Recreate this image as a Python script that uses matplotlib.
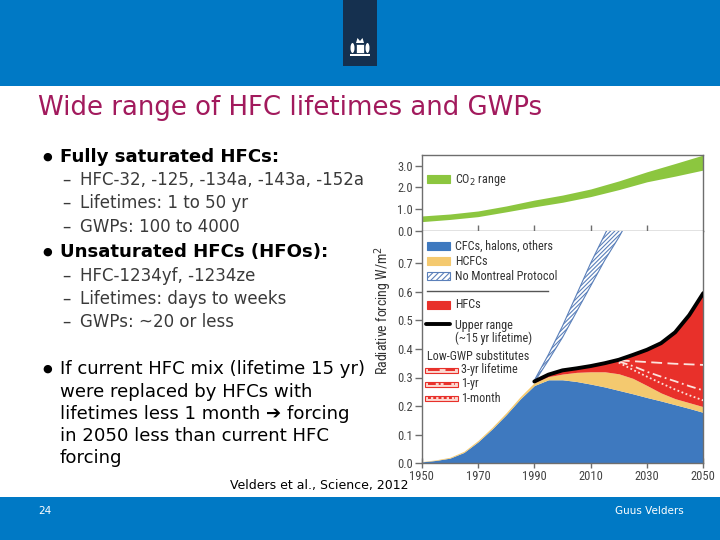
import numpy as np
import matplotlib.pyplot as plt
from matplotlib.patches import Rectangle, Polygon, Ellipse
from matplotlib.lines import Line2D
from matplotlib import font_manager

W, H = 720, 540


def fx(x):
    return x / W


def fy(y):
    return 1 - y / H


# --- data ---
years = [1950, 1955, 1960, 1965, 1970, 1975, 1980, 1985, 1990, 1995, 2000,
         2005, 2010, 2015, 2020, 2025, 2030, 2035, 2040, 2045, 2050]
cfc_top = [0.005, 0.010, 0.018, 0.038, 0.075, 0.120, 0.170, 0.225, 0.272, 0.292, 0.292,
           0.286, 0.277, 0.267, 0.255, 0.243, 0.230, 0.218, 0.205, 0.192, 0.178]
hcfc_top = [0.006, 0.012, 0.021, 0.042, 0.080, 0.126, 0.177, 0.233, 0.282, 0.303, 0.312,
            0.318, 0.320, 0.320, 0.313, 0.297, 0.272, 0.246, 0.226, 0.212, 0.198]

hfc_years = [1990, 1995, 2000, 2005, 2010, 2015, 2020, 2025, 2030, 2035, 2040, 2045, 2050]
upper_range = [0.286, 0.310, 0.325, 0.332, 0.340, 0.350, 0.362, 0.379, 0.397, 0.420,
               0.458, 0.518, 0.595]

sub_years = [2020, 2025, 2030, 2035, 2040, 2045, 2050]
sub_3yr = [0.360, 0.357, 0.354, 0.351, 0.348, 0.346, 0.344]
sub_1yr = [0.356, 0.340, 0.320, 0.303, 0.287, 0.270, 0.255]
sub_1month = [0.352, 0.327, 0.303, 0.280, 0.258, 0.238, 0.220]

nmp_years = [1990, 1995, 2000, 2005, 2010, 2015, 2020, 2025]
nmp_low = [0.284, 0.360, 0.440, 0.530, 0.620, 0.710, 0.790, 0.880]
nmp_high = [0.290, 0.380, 0.480, 0.590, 0.700, 0.800, 0.900, 1.000]

co2_years = [1950, 1960, 1970, 1980, 1990, 2000, 2010, 2020, 2030, 2040, 2050]
co2_low = [0.43, 0.53, 0.66, 0.88, 1.11, 1.32, 1.58, 1.90, 2.26, 2.52, 2.80]
co2_high = [0.69, 0.78, 0.92, 1.15, 1.42, 1.65, 1.93, 2.30, 2.72, 3.10, 3.49]

x_ticks = [1950, 1970, 1990, 2010, 2030, 2050]
y_ticks = [0.0, 0.1, 0.2, 0.3, 0.4, 0.5, 0.6, 0.7]
co2_ticks = [0.0, 1.0, 2.0, 3.0]

# colours
slide_blue = '#0079C5'
c_blue = '#3E79BF'
c_yellow = '#F4C96F'
c_red = '#E8302A'
c_green = '#8CC63F'
c_hatch = '#5B80BA'
c_axis = '#6E6E6E'
c_txt = '#333333'

# narrow font for the chart, first one that is installed
installed = {f.name for f in font_manager.fontManager.ttflist}
chart_font = 'DejaVu Sans'
chart_scale = 0.78
for name, sc in [('Liberation Sans Narrow', 1.0), ('DejaVu Sans Condensed', 0.92),
                 ('Roboto Condensed', 1.0), ('Liberation Sans', 0.85)]:
    if name in installed:
        chart_font, chart_scale = name, sc
        break
plt.rcParams['hatch.linewidth'] = 0.8

fig = plt.figure(figsize=(7.2, 5.4), dpi=100)
fig.patch.set_facecolor('white')

# --- slide frame ---
fig.add_artist(Rectangle((0, fy(86)), 1, 86 / H, transform=fig.transFigure,
                         color=slide_blue, lw=0, zorder=0))
fig.add_artist(Rectangle((fx(343), fy(66)), 34 / W, 66 / H, transform=fig.transFigure,
                         color='#15304F', lw=0, zorder=1))
# tiny crest
fig.add_artist(Rectangle((fx(356), fy(53)), 8 / W, 9 / H, transform=fig.transFigure,
                         facecolor='white', edgecolor='#15304F', lw=0.5, zorder=2))
fig.add_artist(Polygon([(fx(356), fy(43)), (fx(357.5), fy(38)), (fx(360), fy(41)),
                        (fx(362.5), fy(38)), (fx(364), fy(43))], closed=True,
                       transform=fig.transFigure, color='white', lw=0, zorder=2))
fig.add_artist(Ellipse((fx(352.5), fy(48)), 4 / W, 10 / H, transform=fig.transFigure,
                       color='white', lw=0, zorder=2))
fig.add_artist(Ellipse((fx(367.5), fy(48)), 4 / W, 10 / H, transform=fig.transFigure,
                       color='white', lw=0, zorder=2))
fig.add_artist(Rectangle((fx(350), fy(56)), 20 / W, 2 / H, transform=fig.transFigure,
                         color='white', lw=0, zorder=2))
fig.add_artist(Rectangle((0, 0), 1, 43 / H, transform=fig.transFigure,
                         color=slide_blue, lw=0, zorder=0))

fig.text(fx(38), fy(108), 'Wide range of HFC lifetimes and GWPs', fontsize=18.7,
         color='#A21A5D', va='center', ha='left')
fig.text(fx(38), fy(511), '24', fontsize=7.5, color='white', va='center')
fig.text(fx(615), fy(511), 'Guus Velders', fontsize=7.5, color='white', va='center')

# --- bullet text ---
sub_size = 12
bullets = [(157, 'Fully saturated HFCs:', 'bold', 13.1), (252, 'Unsaturated HFCs (HFOs):', 'bold', 13.1),
           (369, 'If current HFC mix (lifetime 15 yr)', 'normal', 13.1)]
for yy, s, wt, sz in bullets:
    fig.text(fx(47), fy(yy), '\u25cf', fontsize=8, color='black', va='center', ha='center')
    fig.text(fx(60), fy(yy), s, fontsize=sz, weight=wt, color='black', va='center')
subs = [(180, 'HFC-32, -125, -134a, -143a, -152a'), (203, 'Lifetimes: 1 to 50 yr'),
        (227, 'GWPs: 100 to 4000'), (276, 'HFC-1234yf, -1234ze'),
        (299, 'Lifetimes: days to weeks'), (322, 'GWPs: ~20 or less')]
for yy, s in subs:
    fig.text(fx(62), fy(yy), '\u2013', fontsize=sub_size, color='#3A3A3A', va='center')
    fig.text(fx(80), fy(yy), s, fontsize=sub_size, color='#3A3A3A', va='center')
cont = [(392, 'were replaced by HFCs with'), (414, 'lifetimes less 1 month \u2794 forcing'),
        (436, 'in 2050 less than current HFC'), (458, 'forcing')]
for yy, s in cont:
    fig.text(fx(60), fy(yy), s, fontsize=13.1, color='black', va='center')

fig.text(fx(230), fy(486), 'Velders et al., Science, 2012', fontsize=9, color='black',
         va='center')

# --- chart axes ---
x0, x1 = 421.7, 703.3
ax_co2 = fig.add_axes([fx(x0), fy(231), (x1 - x0) / W, (231 - 155) / H])
ax = fig.add_axes([fx(x0), fy(463.3), (x1 - x0) / W, (463.3 - 231) / H])

ax_co2.fill_between(co2_years, co2_low, co2_high, color=c_green, lw=0)
ax_co2.set_xlim(1950, 2050)
ax_co2.set_ylim(0, 3.49)
ax_co2.set_yticks(co2_ticks)
ax_co2.set_yticklabels(['%.1f' % v for v in co2_ticks])
ax_co2.set_xticks(x_ticks[1:-1])
ax_co2.tick_params(axis='x', direction='inout', length=9, width=1, color=c_axis,
                   labelbottom=False)

ax.fill_between(years, 0, cfc_top, color=c_blue, lw=0, zorder=2)
ax.fill_between(years, cfc_top, hcfc_top, color=c_yellow, lw=0, zorder=2)
ax.fill_between(hfc_years, hcfc_top[8:], upper_range, color=c_red, lw=0, zorder=2)
ax.fill_between(nmp_years, nmp_low, nmp_high, facecolor='white', edgecolor=c_hatch,
                hatch='////////', lw=0.8, zorder=3)
ax.plot(sub_years, sub_3yr, color='#FCE3DD', lw=1.3, dashes=(6, 3), zorder=4)
ax.plot(sub_years, sub_1yr, color='#FCE3DD', lw=1.3, dashes=(5, 2, 1, 2), zorder=4)
ax.plot(sub_years, sub_1month, color='#FCE3DD', lw=1.3, dashes=(1, 1.4), zorder=4)
ax.plot(hfc_years, upper_range, color='black', lw=2.8, solid_capstyle='round', zorder=5)
ax.set_xlim(1950, 2050)
ax.set_ylim(0, (463.3 - 231) / 286)
ax.set_xticks(x_ticks)
ax.set_yticks(y_ticks)
ax.set_yticklabels(['%.1f' % v for v in y_ticks])
ax.tick_params(axis='x', direction='inout', length=7, width=1, color=c_axis, pad=1)
ax.spines['top'].set_visible(False)

for a in (ax, ax_co2):
    for sp in a.spines.values():
        sp.set_color(c_axis)
        sp.set_linewidth(1)
    a.tick_params(axis='y', direction='out', length=5, width=1, color=c_axis, pad=1.5)
    for lab in a.get_xticklabels() + a.get_yticklabels():
        lab.set_family(chart_font)
        lab.set_fontsize(9 * chart_scale)
        lab.set_color('#444444')

fig.text(fx(383), fy(310), 'Radiative forcing W/m$^2$', rotation=90, fontsize=10 * chart_scale,
         family=chart_font, color=c_txt, va='center', ha='center')

# --- chart legends ---
def patch(y, face, edge=None, hatch=None):
    fig.add_artist(Rectangle((fx(427), fy(y + 4)), 23 / W, 8 / H, transform=fig.transFigure,
                             facecolor=face, edgecolor=edge if edge else face,
                             hatch=hatch, lw=0.8, zorder=6))


def label(y, s, x=455):
    fig.text(fx(x), fy(y), s, fontsize=8.7 * chart_scale, family=chart_font, color=c_txt,
             va='center', ha='left', zorder=6)


patch(179, c_green)
label(180, 'CO$_2$ range')
patch(246, c_blue)
label(246, 'CFCs, halons, others')
patch(261, c_yellow)
label(261, 'HCFCs')
patch(276, 'white', c_hatch, '//////')
label(276, 'No Montreal Protocol')
fig.add_artist(Line2D([fx(427), fx(548)], [fy(291), fy(291)], transform=fig.transFigure,
                      color='#555555', lw=1, zorder=6))
patch(305, c_red)
label(305, 'HFCs')
fig.add_artist(Line2D([fx(426), fx(450)], [fy(324), fy(324)], transform=fig.transFigure,
                      color='black', lw=2.8, solid_capstyle='round', zorder=6))
label(325, 'Upper range')
label(338, '(~15 yr lifetime)')
label(356, 'Low-GWP substitutes', x=427)
for yy, s, ds in [(370, '3-yr lifetime', (6, 3)), (384, '1-yr', (4, 1.5, 1, 1.5)),
                  (398, '1-month', (1.5, 1.2))]:
    fig.add_artist(Rectangle((fx(425), fy(yy + 2.5)), 33 / W, 5 / H,
                             transform=fig.transFigure, facecolor='#FBD9D1',
                             edgecolor=c_red, lw=0.8, zorder=6))
    fig.add_artist(Line2D([fx(428), fx(455)], [fy(yy), fy(yy)], transform=fig.transFigure,
                          color=c_red, lw=1.4, dashes=ds, zorder=7))
    label(yy, s, x=461)

fig.savefig('out.png', dpi=100)
